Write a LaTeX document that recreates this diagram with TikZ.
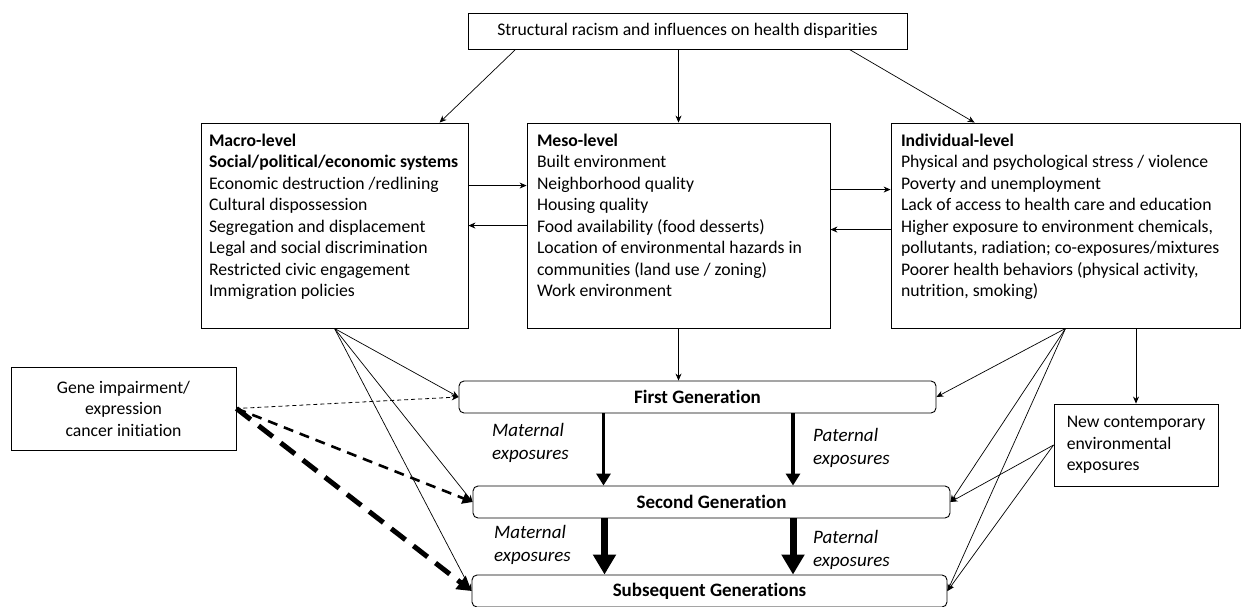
\documentclass[tikz,border=0pt]{standalone}
\usepackage{fontspec}
\setmainfont{Carlito}[Ligatures=NoCommon]
\usetikzlibrary{positioning}
\usetikzlibrary{arrows.meta}

\newcommand{\mainsz}{\fontsize{17.7pt}{21.5pt}\selectfont}
\newcommand{\gensz}{\fontsize{19pt}{23.5pt}\selectfont}

\tikzset{
  lvlbox/.style={draw, line width=0.9pt, inner xsep=8pt, inner ysep=8pt},
  genbox/.style={draw, line width=0.9pt, rounded corners=5pt,
                 minimum width=477pt, minimum height=32pt, font=\gensz\bfseries},
  explab/.style={anchor=west, align=left, inner sep=0pt, font=\gensz\itshape},
  arr/.style={-{Stealth[length=7pt,width=6pt]}, line width=0.7pt},
  heavyA/.style={-{Triangle[length=12pt,width=14pt]}, line width=3.3pt},
  heavyB/.style={-{Triangle[length=20pt,width=22pt]}, line width=7pt},
  genedashA/.style={-{Stealth[length=7pt,width=6pt]}, line width=0.8pt, dash pattern=on 4pt off 3pt},
  genedashB/.style={-{Triangle[length=10pt,width=11pt]}, line width=2.6pt, dash pattern=on 10pt off 7pt},
  genedashC/.style={-{Triangle[length=14pt,width=16pt]}, line width=5pt, dash pattern=on 18pt off 10pt}
}

\begin{document}
\begin{tikzpicture}[x=1pt, y=-1pt, font=\mainsz]
\useasboundingbox (0,0) rectangle (1241,606);

\node[lvlbox, minimum width=439pt, minimum height=36pt] (top) at (687.5,31)
  {Structural racism and influences on health disparities};

\node[lvlbox, inner ysep=11pt, minimum width=267pt, minimum height=205pt] (macro) at (334.5,225.5)
  {\begin{minipage}[t][183pt][t]{251pt}\raggedright
   \textbf{Macro-level}\\
   \textbf{Social/political/economic systems}\\
   Economic destruction /redlining\\
   Cultural dispossession\\
   Segregation and displacement\\
   Legal and social discrimination\\
   Restricted civic engagement\\
   Immigration policies
   \end{minipage}};
\node[lvlbox, inner xsep=10pt, inner ysep=11pt, minimum width=303pt, minimum height=205pt] (meso) at (678.5,225.5)
  {\begin{minipage}[t][183pt][t]{283pt}\raggedright
   \textbf{Meso-level}\\
   Built environment\\
   Neighborhood quality\\
   Housing quality\\
   Food availability (food desserts)\\
   Location of environmental hazards in\\
   communities (land use / zoning)\\
   Work environment
   \end{minipage}};
\node[lvlbox, inner xsep=10pt, inner ysep=11pt, minimum width=349pt, minimum height=205pt] (indiv) at (1065.5,225.5)
  {\begin{minipage}[t][183pt][t]{329pt}\raggedright
   \textbf{Individual-level}\\
   Physical and psychological stress / violence\\
   Poverty and unemployment\\
   Lack of access to health care and education\\
   Higher exposure to environment chemicals,\\
   pollutants, radiation; co-exposures/mixtures\\
   Poorer health behaviors (physical activity,\\
   nutrition, smoking)
   \end{minipage}};

\node[lvlbox, minimum width=225pt, minimum height=83pt, align=center] (gene) at (123.5,408.5)
  {Gene impairment/\\expression\\cancer initiation};
\node[lvlbox, minimum width=164pt, minimum height=82pt, align=left] (newexp) at (1136,445)
  {New contemporary\\environmental\\exposures};

\node[genbox] (first) at (697.5,397) {First Generation};
\node[genbox] (second) at (711.5,502) {Second Generation};
\node[genbox, minimum width=475pt] (subseq) at (709.5,591) {Subsequent Generations};

\node[explab] (mat1) at (492,443) {Maternal\\exposures};
\node[explab] (pat1) at (813,448) {Paternal\\exposures};
\node[explab] (mat2) at (494,545) {Maternal\\exposures};
\node[explab] (pat2) at (813,550) {Paternal\\exposures};

\path[arr]
  ([xshift=48pt]top.south west) edge ([xshift=239pt]macro.north west)
  (top.south -| meso.north) edge (meso.north)
  ([xshift=-58pt]top.south east) edge ([xshift=84pt]indiv.north west)
  ([yshift=-63pt]macro.north east) edge ([yshift=-63pt]meso.north west)
  ([yshift=-103pt]meso.north west) edge ([yshift=-103pt]macro.north east)
  ([yshift=-67pt]meso.north east) edge ([yshift=-67pt]indiv.north west)
  ([yshift=-107pt]indiv.north west) edge ([yshift=-107pt]meso.north east)
  (meso.south) edge (meso.south |- first.north)
  (macro.south) edge (first.west) edge (second.west) edge (subseq.west)
  (indiv.south) edge (first.east) edge (second.east) edge (subseq.east)
  (indiv.south -| newexp.north) edge (newexp.north)
  (newexp.west) edge (second.east) edge (subseq.east);

\draw[genedashA] (gene.east) -- (first.west);
\draw[genedashB] (gene.east) -- (second.west);
\draw[genedashC] (gene.east) -- (subseq.west);

\draw[heavyA] ([xshift=-94pt]first.south) -- ([xshift=-94pt]first.south |- second.north);
\draw[heavyA] ([xshift=95.5pt]first.south) -- ([xshift=95.5pt]first.south |- second.north);
\draw[heavyB] ([xshift=-107pt]second.south) -- ([xshift=-107pt]second.south |- subseq.north);
\draw[heavyB] ([xshift=81.5pt]second.south) -- ([xshift=81.5pt]second.south |- subseq.north);
\end{tikzpicture}
\end{document}
